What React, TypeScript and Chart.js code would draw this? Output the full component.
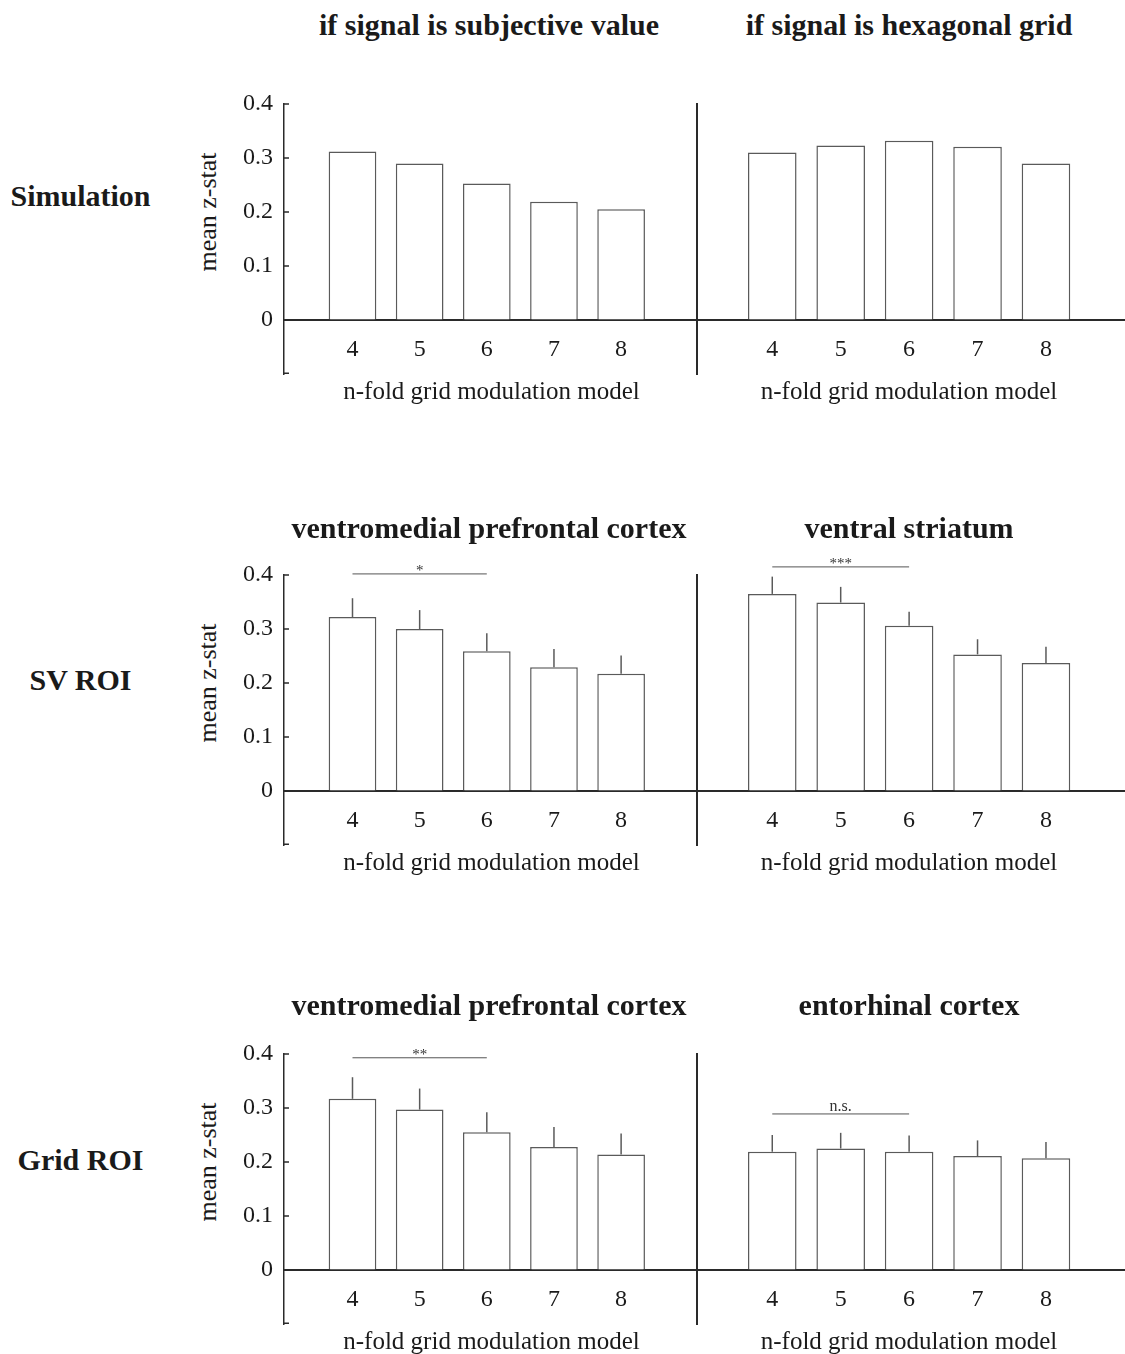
import React, { useEffect, useRef } from "react";
import { Chart, registerables } from "chart.js";

Chart.register(...registerables);

// ---------- data ----------
const CATEGORIES = [4, 5, 6, 7, 8];
const Y_TICKS = [0, 0.1, 0.2, 0.3, 0.4];
const Y_MIN = -0.1;
const Y_MAX = 0.4;

const SIM_SUBJECTIVE = [0.312, 0.29, 0.253, 0.219, 0.205];
const SIM_HEXAGONAL = [0.31, 0.323, 0.332, 0.321, 0.29];

const SV_VMPFC = [0.322, 0.3, 0.259, 0.229, 0.217];
const SV_VMPFC_SEM = [0.035, 0.035, 0.033, 0.034, 0.034];
const SV_VSTR = [0.365, 0.349, 0.306, 0.253, 0.237];
const SV_VSTR_SEM = [0.032, 0.029, 0.026, 0.028, 0.03];

const GRID_VMPFC = [0.317, 0.297, 0.255, 0.228, 0.214];
const GRID_VMPFC_SEM = [0.04, 0.039, 0.037, 0.037, 0.039];
const GRID_ERC = [0.219, 0.225, 0.219, 0.211, 0.207];
const GRID_ERC_SEM = [0.031, 0.029, 0.03, 0.029, 0.03];

const ROW_LABELS = ["Simulation", "SV ROI", "Grid ROI"];
const LEFT_TITLES = ["if signal is subjective value", "ventromedial prefrontal cortex", "ventromedial prefrontal cortex"];
const RIGHT_TITLES = ["if signal is hexagonal grid", "ventral striatum", "entorhinal cortex"];
const X_TITLE = "n-fold grid modulation model";
const Y_TITLE = "mean z-stat";

// significance brackets: compare model 4 vs model 6
const SIG_FROM = 4;
const SIG_TO = 6;
const SV_VMPFC_SIG = { level: 0.402, label: "*" };
const SV_VSTR_SIG = { level: 0.415, label: "***" };
const GRID_VMPFC_SIG = { level: 0.393, label: "**" };
const GRID_ERC_SIG = { level: 0.289, label: "n.s." };

// ---------- style ----------
const FONT = "'Liberation Serif', 'Times New Roman', serif";
const TEXT = "#1a1a1a";
const AXIS = "#2a2a2a";
const BAR_EDGE = "#5a5a5a";
const ROW_TOPS = [104, 575, 1054]; // pixel of y = 0.4 in each row
const CANVAS_PAD_TOP = 45;
const CANVAS_PAD_BOTTOM = 40;
const AREA_H = 270;
const CANVAS_H = CANVAS_PAD_TOP + AREA_H + CANVAS_PAD_BOTTOM;

type Sig = { level: number; label: string } | null;

type PanelProps = {
  values: number[];
  sem?: number[];
  sig?: Sig;
  side: "left" | "right";
  rowTop: number;
};

function Panel({ values, sem, sig, side, rowTop }: PanelProps) {
  const ref = useRef<HTMLCanvasElement>(null);
  const isLeft = side === "left";
  const canvasLeft = isLeft ? 230 : 687;
  const canvasWidth = isLeft ? 467 : 438;
  const xMin = isLeft ? 2.98 : 2.9;
  const xMax = isLeft ? 9.13 : 9.155;

  useEffect(() => {
    const overlay = {
      id: "overlay",
      afterDraw(chart: any) {
        const { ctx, chartArea } = chart;
        const x = chart.scales.x;
        const y = chart.scales.y;
        ctx.save();
        if (isLeft) {
          ctx.strokeStyle = AXIS;
          ctx.lineWidth = 1.5;
          [...Y_TICKS, Y_MIN].forEach((v) => {
            let py = y.getPixelForValue(v);
            if (v === Y_MIN) py -= 0.75;
            ctx.beginPath();
            ctx.moveTo(chartArea.left, py);
            ctx.lineTo(chartArea.left + 5, py);
            ctx.stroke();
          });
        }
        if (sem) {
          ctx.strokeStyle = BAR_EDGE;
          ctx.lineWidth = 1.5;
          values.forEach((v, i) => {
            const px = x.getPixelForValue(CATEGORIES[i]);
            ctx.beginPath();
            ctx.moveTo(px, y.getPixelForValue(v));
            ctx.lineTo(px, y.getPixelForValue(v + sem[i]));
            ctx.stroke();
          });
        }
        if (sig) {
          const x1 = x.getPixelForValue(SIG_FROM);
          const x2 = x.getPixelForValue(SIG_TO);
          const py = y.getPixelForValue(sig.level);
          ctx.strokeStyle = "#555";
          ctx.lineWidth = 1;
          ctx.beginPath();
          ctx.moveTo(x1, py);
          ctx.lineTo(x2, py);
          ctx.stroke();
          const isStar = sig.label.includes("*");
          ctx.fillStyle = "#333";
          ctx.font = `${isStar ? 15 : 16}px ${FONT}`;
          ctx.textAlign = "center";
          ctx.textBaseline = "alphabetic";
          ctx.fillText(sig.label, (x1 + x2) / 2, py + (isStar ? 1 : -3));
        }
        ctx.restore();
      },
    };

    const chart = new Chart(ref.current as HTMLCanvasElement, {
      type: "bar",
      data: {
        datasets: [
          {
            data: CATEGORIES.map((c, i) => ({ x: c, y: values[i] })) as any,
            backgroundColor: "#ffffff",
            borderColor: BAR_EDGE,
            borderWidth: 1.5,
            barPercentage: 0.71,
            categoryPercentage: 1,
          },
        ],
      },
      options: {
        animation: false,
        responsive: false,
        events: [],
        layout: { padding: { top: CANVAS_PAD_TOP, bottom: CANVAS_PAD_BOTTOM, left: 0, right: 0 } },
        plugins: { legend: { display: false }, tooltip: { enabled: false } },
        scales: {
          x: {
            type: "linear",
            min: xMin,
            max: xMax,
            offset: false,
            position: { y: 0 } as any,
            afterBuildTicks: (s: any) => {
              s.ticks = CATEGORIES.map((v) => ({ value: v }));
            },
            ticks: {
              padding: 15,
              color: TEXT,
              font: { family: FONT, size: 24 },
              maxRotation: 0,
              autoSkip: false,
              callback: (v: any) => String(v),
            },
            grid: { display: true, drawOnChartArea: false, drawTicks: false },
            border: { display: true, color: AXIS, width: 2 },
          },
          y: {
            type: "linear",
            min: Y_MIN,
            max: Y_MAX,
            afterBuildTicks: (s: any) => {
              s.ticks = Y_TICKS.map((v) => ({ value: v }));
            },
            afterFit: (s: any) => {
              s.width = isLeft ? 54 : 10;
            },
            ticks: {
              display: isLeft,
              padding: 11,
              color: TEXT,
              font: { family: FONT, size: 24 },
              callback: (v: any) => (Number(v) === 0 ? "0" : Number(v).toFixed(1)),
            },
            grid: { display: true, drawOnChartArea: false, drawTicks: false },
            border: { display: true, color: AXIS, width: isLeft ? 1.5 : 2 },
          },
        },
      },
      plugins: [overlay],
    });
    return () => chart.destroy();
  }, []);

  return (
    <canvas
      ref={ref}
      width={canvasWidth}
      height={CANVAS_H}
      style={{ position: "absolute", left: canvasLeft, top: rowTop - CANVAS_PAD_TOP, width: canvasWidth, height: CANVAS_H }}
    />
  );
}

function Label({ text, x, y, size, bold, rotate }: { text: string; x: number; y: number; size: number; bold?: boolean; rotate?: boolean }) {
  return (
    <div
      style={{
        position: "absolute",
        left: x,
        top: y,
        transform: `translate(-50%, -50%)${rotate ? " rotate(-90deg)" : ""}`,
        fontFamily: FONT,
        fontSize: size,
        fontWeight: bold ? 700 : 400,
        lineHeight: 1,
        whiteSpace: "nowrap",
        color: TEXT,
      }}
    >
      {text}
    </div>
  );
}

const ROW_DATA: { left: number[]; leftSem?: number[]; leftSig: Sig; right: number[]; rightSem?: number[]; rightSig: Sig }[] = [
  { left: SIM_SUBJECTIVE, leftSig: null, right: SIM_HEXAGONAL, rightSig: null },
  { left: SV_VMPFC, leftSem: SV_VMPFC_SEM, leftSig: SV_VMPFC_SIG, right: SV_VSTR, rightSem: SV_VSTR_SEM, rightSig: SV_VSTR_SIG },
  { left: GRID_VMPFC, leftSem: GRID_VMPFC_SEM, leftSig: GRID_VMPFC_SIG, right: GRID_ERC, rightSem: GRID_ERC_SEM, rightSig: GRID_ERC_SIG },
];

const TITLE_Y = [25, 528, 1005];
const ROW_LABEL_Y = [196, 680, 1160];

export default function App() {
  useEffect(() => {
    document.body.style.margin = "0";
    document.body.style.background = "#ffffff";
  }, []);

  return (
    <div style={{ position: "relative", width: 1125, height: 1354, background: "#ffffff", overflow: "hidden" }}>
      {ROW_DATA.map((r, i) => {
        const T = ROW_TOPS[i];
        const zero = T + 216;
        return (
          <React.Fragment key={i}>
            <Panel values={r.left} sem={r.leftSem} sig={r.leftSig} side="left" rowTop={T} />
            <Panel values={r.right} sem={r.rightSem} sig={r.rightSig} side="right" rowTop={T} />
            <Label text={ROW_LABELS[i]} x={80.5} y={ROW_LABEL_Y[i]} size={30} bold />
            <Label text={LEFT_TITLES[i]} x={489} y={TITLE_Y[i]} size={30} bold />
            <Label text={RIGHT_TITLES[i]} x={909} y={TITLE_Y[i]} size={30} bold />
            <Label text={Y_TITLE} x={208} y={T + 108} size={26} rotate />
            <Label text={X_TITLE} x={491.5} y={zero + 70} size={25} />
            <Label text={X_TITLE} x={909} y={zero + 70} size={25} />
          </React.Fragment>
        );
      })}
    </div>
  );
}
